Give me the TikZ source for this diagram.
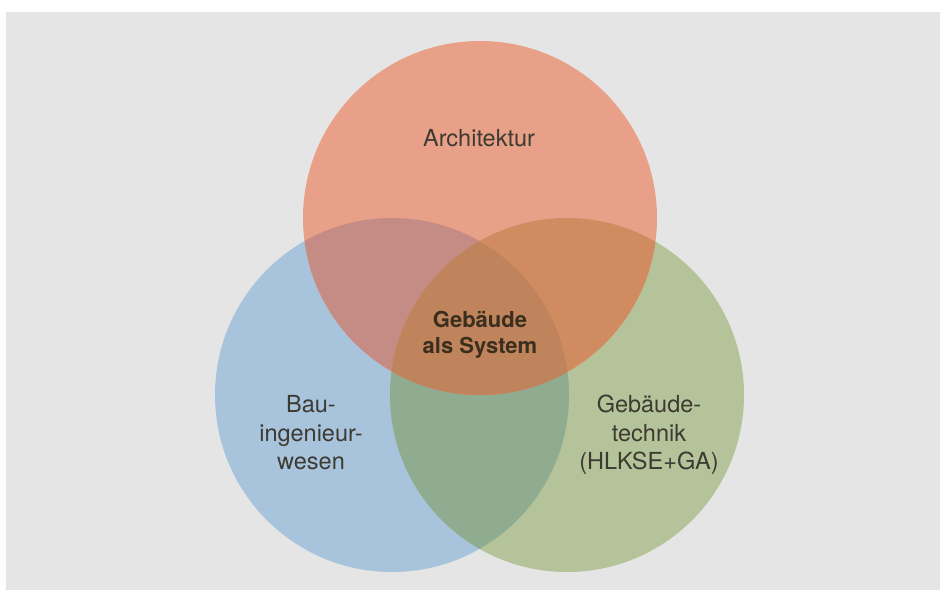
\documentclass[tikz,border=0pt]{standalone}
\usepackage{fontspec}
\setmainfont{TeX Gyre Heros}
\definecolor{bg}{HTML}{E5E5E5}
\definecolor{cred}{HTML}{E8A088}
\definecolor{cblue}{HTML}{A8C4DC}
\definecolor{cgreen}{HTML}{B4C399}
\definecolor{crb}{HTML}{C48C84}
\definecolor{crg}{HTML}{D08C60}
\definecolor{cbg}{HTML}{90AC90}
\definecolor{ccen}{HTML}{C0845C}
\definecolor{txt}{HTML}{3D3A32}
\definecolor{txtc}{HTML}{3A2E1E}
\tikzset{
  lbl/.style={text=txt, align=center, font=\fontsize{23.5}{28.5}\selectfont, inner sep=0pt},
  lblc/.style={text=txtc, align=center, font=\fontsize{22}{26}\selectfont\bfseries, inner sep=0pt},
}
\begin{document}
\begin{tikzpicture}[x=1pt,y=-1pt]
\useasboundingbox (0,0) rectangle (940,590);
\fill[white] (0,0) rectangle (940,590);
\fill[bg] (6,12) rectangle (940,590);
\coordinate (R) at (480,218);
\coordinate (B) at (392,395);
\coordinate (G) at (567,395);
\def\rr{177pt}
\fill[cblue] (B) circle[radius=\rr];
\fill[cgreen] (G) circle[radius=\rr];
\fill[cred] (R) circle[radius=\rr];
\begin{scope}
  \clip (B) circle[radius=\rr];
  \fill[cbg] (G) circle[radius=\rr];
\end{scope}
\begin{scope}
  \clip (B) circle[radius=\rr];
  \fill[crb] (R) circle[radius=\rr];
\end{scope}
\begin{scope}
  \clip (G) circle[radius=\rr];
  \fill[crg] (R) circle[radius=\rr];
\end{scope}
\begin{scope}
  \clip (B) circle[radius=\rr];
  \clip (G) circle[radius=\rr];
  \fill[ccen] (R) circle[radius=\rr];
\end{scope}
\node[lbl] (arch) at (479,138) {Architektur};
\node[lblc] (sys) at (480,335) {Gebäude\\als System};
\node[lbl] (bau) at (311,433) {Bau-\\ingenieur-\\wesen};
\node[lbl] (tech) at (649,435) {Gebäude-\\technik\\(HLKSE+GA)};
\end{tikzpicture}
\end{document}
